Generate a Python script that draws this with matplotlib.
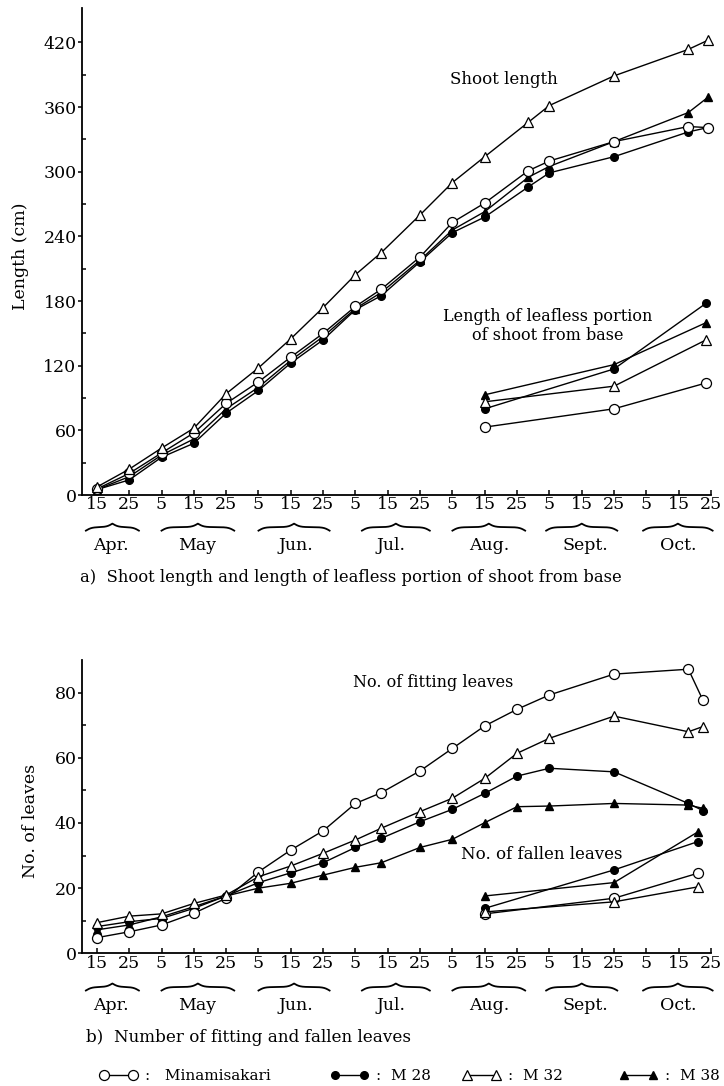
import numpy as np
import matplotlib.pyplot as plt
from matplotlib.lines import Line2D

plt.rcParams['font.family'] = 'DejaVu Serif'

# posizioni sull'asse x: indice del tick (15 apr = 0, 25 apr = 1, 5 mag = 2, ...)
tick_lab = ['15', '25', '5', '15', '25', '5', '15', '25', '5', '15', '25',
            '5', '15', '25', '5', '15', '25', '5', '15', '25']
mesi = ['Apr.', 'May', 'Jun.', 'Jul.', 'Aug.', 'Sept.', 'Oct.']
pos_mesi = [0.45, 3.1, 6.15, 9.1, 12.15, 15.1, 18.0]
graffe = [(-0.34, 1.3), (2.0, 4.25), (5.0, 7.2), (8.2, 10.3), (11.0, 13.25), (13.9, 16.1), (16.9, 19.05)]

# a) lunghezza del germoglio
x_a = [0, 1, 2, 3, 4, 5, 6, 7, 8, 8.8, 10, 11, 12, 13.35, 14, 16, 18.3, 18.9]
mina_a = [5.6, 20, 39, 57.6, 85, 105, 128, 150, 175, 191, 221, 253, 271, 301, 310, 328, 342, 341]
m28_a = [5, 14, 35, 48, 76, 97, 122.5, 144, 172, 185, 216.5, 243.5, 258, 286, 299, 314, 337, 341]
m32_a = [7.4, 24, 43.5, 62, 94, 118, 145, 174, 204.5, 225, 260, 290, 314, 346, 361.5, 389, 413.6, 422]
m38_a = [5, 17, 37, 52, 80, 100, 125, 147, 173, 188, 218, 246, 263, 295, 305, 328, 355, 369]

# parte senza foglie
x_nud = [12, 16, 18.85]
mina_nud = [63, 80, 104]
m28_nud = [80, 117, 178]
m32_nud = [86.5, 101, 144]
m38_nud = [93, 121, 160]

# b) numero di foglie
x_b = [0, 1, 2, 3, 4, 5, 6, 7, 8, 8.8, 10, 11, 12, 13, 14, 16, 18.3, 18.75]
mina_b = [4.8, 6.6, 8.7, 12.3, 16.9, 25.0, 31.7, 37.6, 46.0, 49.3, 56.0, 62.9, 69.8, 74.9, 79.3, 85.7, 87.2, 77.7]
m28_b = [8.2, 9.7, 10.7, 13.8, 17.6, 21.7, 24.7, 27.8, 32.5, 35.3, 40.4, 44.2, 49.1, 54.4, 56.8, 55.7, 46.0, 43.8]
m32_b = [9.4, 11.4, 12.1, 15.3, 17.9, 23.5, 26.8, 30.7, 34.8, 38.4, 43.5, 47.6, 53.7, 61.4, 66.0, 72.8, 68.0, 69.6]
m38_b = [7.2, 8.7, 11.2, 14.3, 17.6, 20.0, 21.5, 24.0, 26.4, 27.8, 32.5, 35.0, 40.1, 45.0, 45.2, 46.0, 45.5, 44.5]

# foglie cadute
x_cad = [12, 16, 18.6]
mina_cad = [12.1, 16.9, 24.6]
m28_cad = [13.8, 25.6, 34.3]
m32_cad = [12.7, 15.8, 20.4]
m38_cad = [17.6, 21.7, 37.3]

# stili dei simboli
st_mina = dict(marker='o', ms=7.2, mfc='white', mec='k', mew=0.9)
st_m28 = dict(marker='o', ms=5.5, mfc='k', mec='k')
st_m32 = dict(marker='^', ms=6.8, mfc='white', mec='k', mew=0.9)
st_m38 = dict(marker='^', ms=6, mfc='k', mec='k')


def graffa(ax, x0, x1, y0, h):
    # graffa orizzontale sotto le etichette dei giorni
    n = 101
    t = np.linspace(x0, (x0 + x1) / 2, n)
    beta = 11.
    mezza = 1 / (1 + np.exp(-beta * (t - t[0]))) + 1 / (1 + np.exp(-beta * (t - t[-1])))
    yy = np.concatenate([mezza, mezza[-2::-1]])
    xx = np.linspace(x0, x1, 2 * n - 1)
    ax.plot(xx, y0 + (yy - 1) * h, transform=ax.get_xaxis_transform(),
            color='k', lw=1.3, clip_on=False)


def sistema_asse(ax, y_mesi, y_graffe, h_graffe):
    ax.spines['top'].set_visible(False)
    ax.spines['right'].set_visible(False)
    ax.spines['left'].set_linewidth(1.3)
    ax.spines['bottom'].set_linewidth(1.3)
    ax.set_xlim(-0.46, 19.0)
    ax.set_xticks(range(20))
    ax.set_xticklabels(tick_lab, fontsize=12.5)
    ax.tick_params(axis='x', direction='in', length=3.5, width=1.1, pad=1)
    ax.tick_params(axis='y', which='major', direction='out', length=3, width=1.1, pad=1, labelsize=12.5)
    ax.tick_params(axis='y', which='minor', direction='in', length=3, width=1.1)
    for m, p in zip(mesi, pos_mesi):
        ax.text(p, y_mesi, m, transform=ax.get_xaxis_transform(), ha='center', va='center', fontsize=12.5)
    for g in graffe:
        graffa(ax, g[0], g[1], y_graffe, h_graffe)


fig = plt.figure(figsize=(7.24, 10.86), dpi=100)

# grafico a)
ax1 = fig.add_axes([82 / 724, 1 - 495 / 1086, 629 / 724, 487 / 1086])
for x, y, st in [(x_a, m28_a, st_m28), (x_a, m38_a, st_m38), (x_a, mina_a, st_mina), (x_a, m32_a, st_m32),
                 (x_nud, m28_nud, st_m28), (x_nud, m38_nud, st_m38), (x_nud, mina_nud, st_mina), (x_nud, m32_nud, st_m32)]:
    ax1.plot(x, y, color='k', lw=1.0, clip_on=False, **st)
ax1.set_ylim(0, 452)
ax1.set_yticks(np.arange(0, 421, 60))
ax1.set_yticks(np.arange(30, 421, 60), minor=True)
ax1.set_ylabel('Length (cm)', fontsize=12.5)
ax1.yaxis.set_label_coords(-0.084, 0.49)
ax1.text(12.6, 386, 'Shoot length', ha='center', va='center', fontsize=12)
ax1.text(13.95, 157, 'Length of leafless portion\nof shoot from base', ha='center', va='center',
         fontsize=11.5, linespacing=1.15)
sistema_asse(ax1, -0.1027, -0.066, 7 / 487)
fig.text(80 / 724, 1 - 578 / 1086, 'a)  Shoot length and length of leafless portion of shoot from base',
         ha='left', va='center', fontsize=11.8)

# grafico b)
ax2 = fig.add_axes([82 / 724, 1 - 953.3 / 1086, 629 / 724, 293.2 / 1086])
for x, y, st in [(x_b, m28_b, st_m28), (x_b, m38_b, st_m38), (x_b, mina_b, st_mina), (x_b, m32_b, st_m32),
                 (x_cad, m28_cad, st_m28), (x_cad, m38_cad, st_m38), (x_cad, mina_cad, st_mina), (x_cad, m32_cad, st_m32)]:
    ax2.plot(x, y, color='k', lw=1.0, clip_on=False, **st)
ax2.set_ylim(0, 90)
ax2.set_yticks(np.arange(0, 81, 20))
ax2.set_yticks(np.arange(10, 71, 20), minor=True)
ax2.set_ylabel('No. of leaves', fontsize=12.5)
ax2.yaxis.set_label_coords(-0.068, 0.45)
ax2.text(10.4, 83, 'No. of fitting leaves', ha='center', va='center', fontsize=11.5)
ax2.text(13.75, 30.2, 'No. of fallen leaves', ha='center', va='center', fontsize=12)
sistema_asse(ax2, -0.1765, -0.115, 7 / 293)
fig.text(86 / 724, 1 - 1038 / 1086, 'b)  Number of fitting and fallen leaves',
         ha='left', va='center', fontsize=12.1)

# legenda in fondo
voci = [(st_mina, ':   Minamisakari', 99), (st_m28, ':  M 28', 330),
        (st_m32, ':  M 32', 462), (st_m38, ':  M 38', 619)]
for st, lab, xp in voci:
    h = Line2D([], [], color='k', lw=1.0, **st)
    fig.legend([h], [lab], loc='center left', bbox_to_anchor=(xp / 724, 1 - 1076 / 1086),
               frameon=False, numpoints=2, handlelength=2.5, handletextpad=0.5,
               borderpad=0, borderaxespad=0, fontsize=11)

fig.savefig('out.png', dpi=100)
